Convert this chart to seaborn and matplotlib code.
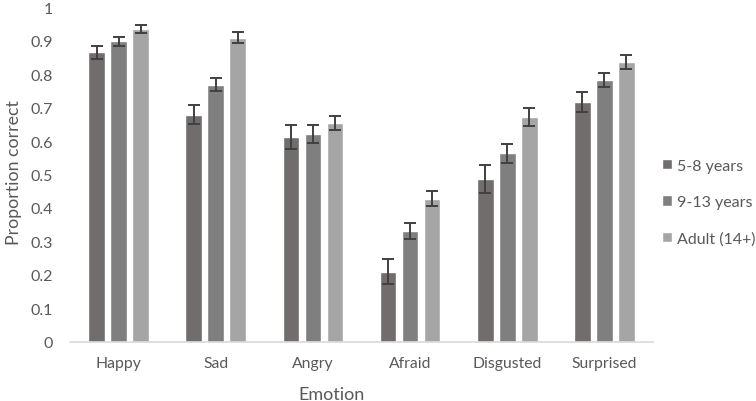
import pandas as pd
import numpy as np
import matplotlib
matplotlib.use("Agg")
import matplotlib.pyplot as plt
from matplotlib.ticker import FuncFormatter, MultipleLocator
import seaborn as sns

# values
emotions = ["Happy", "Sad", "Angry", "Afraid", "Disgusted", "Surprised"]
groups = ["5-8 years", "9-13 years", "Adult (14+)"]

young = [0.866, 0.679, 0.613, 0.210, 0.487, 0.717]
middle = [0.899, 0.769, 0.621, 0.331, 0.564, 0.783]
adult = [0.936, 0.910, 0.655, 0.428, 0.672, 0.837]

young_err = [0.020, 0.028, 0.036, 0.036, 0.041, 0.030]
middle_err = [0.013, 0.020, 0.026, 0.024, 0.028, 0.021]
adult_err = [0.012, 0.017, 0.021, 0.022, 0.027, 0.020]

colors = ["#716d6c", "#7f7f7f", "#a5a5a5"]
text_col = "#595959"

sns.set_theme(style="white")
plt.rcParams['font.family'] = ['Lato', 'DejaVu Sans']

rows = []
for g, vals in zip(groups, [young, middle, adult]):
    for e, v in zip(emotions, vals):
        rows.append({"Emotion": e, "Group": g, "Value": v})
df = pd.DataFrame(rows)
errs = [young_err, middle_err, adult_err]

fig = plt.figure(figsize=(7.56, 4.02), dpi=100)
ax = fig.add_axes([0.0926, 0.1475, 0.7712, 0.8315])

sns.barplot(data=df, x="Emotion", y="Value", hue="Group", order=emotions,
            hue_order=groups, palette=colors, errorbar=None,
            width=0.68, gap=0.24, saturation=1, ax=ax)

# error bars on top of each bar, placed from the bars seaborn drew
for cont, err in zip(ax.containers, errs):
    xs = [b.get_x() + b.get_width() / 2 for b in cont]
    ys = [b.get_height() for b in cont]
    ax.errorbar(xs, ys, yerr=err, fmt="none", ecolor="#404040",
                elinewidth=1.4, capsize=4.2, capthick=1.4, zorder=5)

ax.set_ylim(0, 1)
ax.set_xlim(-0.5, 5.5)
ax.yaxis.set_major_locator(MultipleLocator(0.1))
ax.yaxis.set_major_formatter(FuncFormatter(lambda v, p: "%g" % round(v, 1)))

for s in ["top", "right", "left"]:
    ax.spines[s].set_visible(False)
ax.spines["bottom"].set_color("#d9d9d9")
ax.spines["bottom"].set_linewidth(1.2)

ax.tick_params(axis="y", length=0, pad=12, labelsize=11.5, labelcolor=text_col)
ax.tick_params(axis="x", length=0, pad=10, labelsize=11.3, labelcolor=text_col)

ax.set_xlabel("Emotion", fontsize=13, color=text_col)
ax.set_ylabel("Proportion correct", fontsize=12.8, color=text_col)
ax.xaxis.set_label_coords(0.449, -0.132)
ax.yaxis.set_label_coords(-0.083, 0.51)

ax.legend(loc="center left", bbox_to_anchor=(0.857, 0.494),
          bbox_transform=fig.transFigure, frameon=False, fontsize=11.5,
          labelcolor=text_col, handlelength=0.6, handleheight=0.62,
          handletextpad=0.3, labelspacing=1.4, title=None)

fig.savefig("out.png", dpi=100)
